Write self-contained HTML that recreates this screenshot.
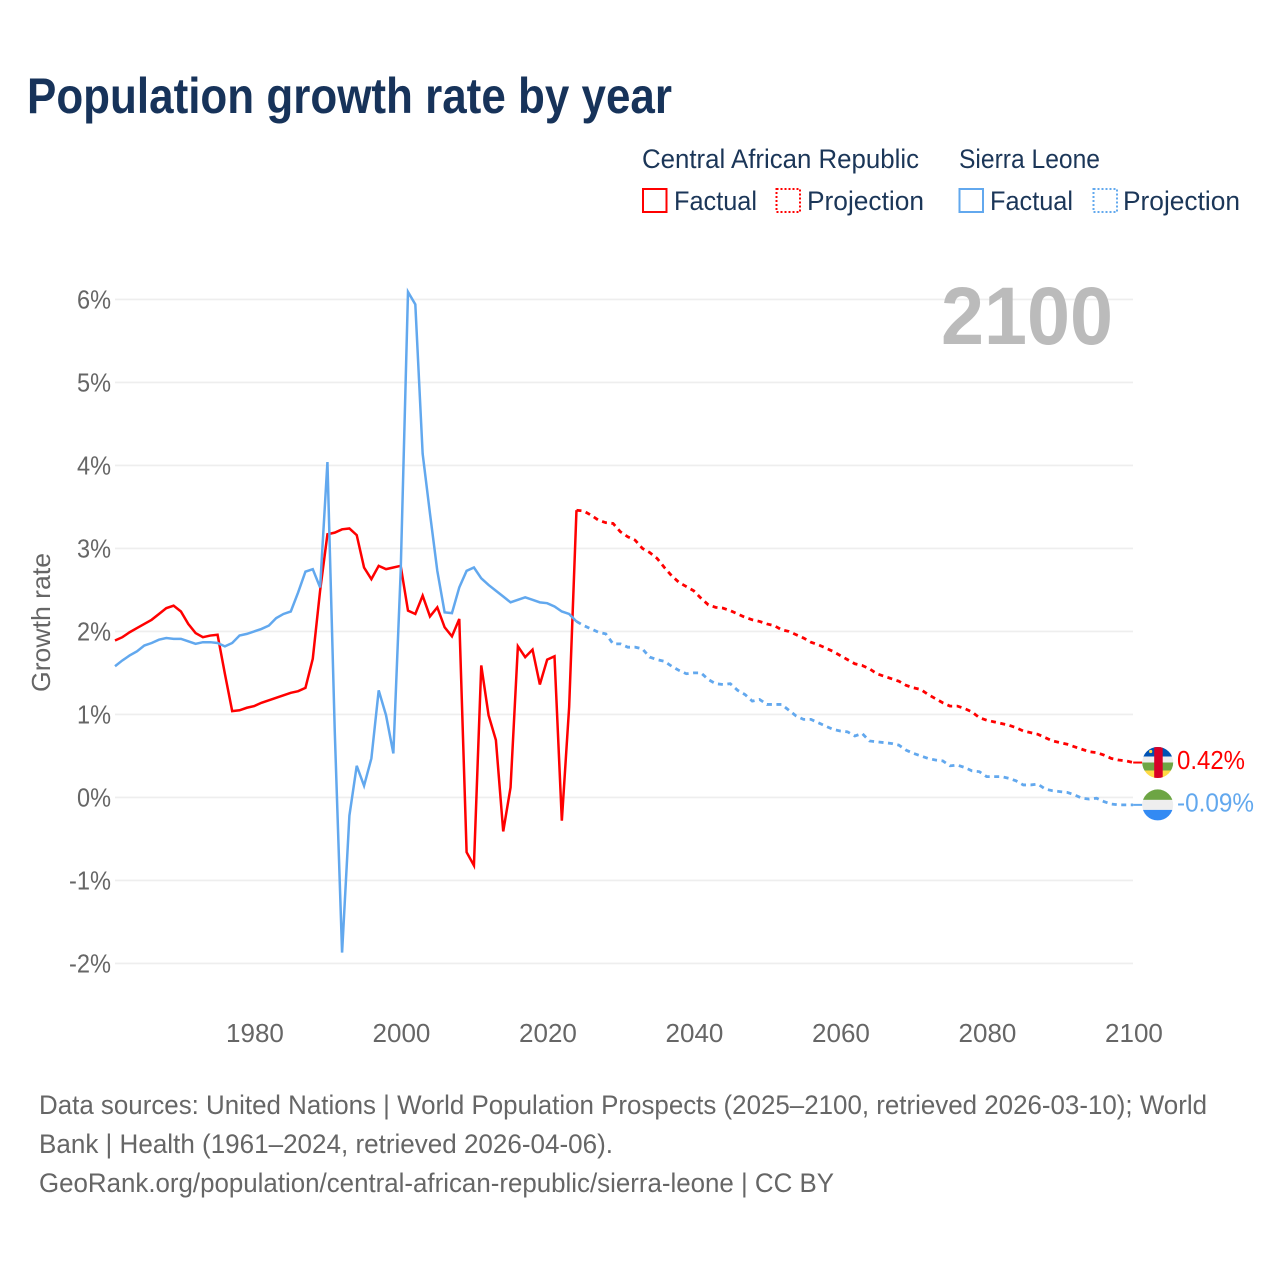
<!DOCTYPE html>
<html lang="en">
<head>
<meta charset="utf-8">
<title>Population growth rate by year</title>
<style>
  html, body { margin: 0; padding: 0; background: #fff; }
  svg { display: block; }
  text { font-family: "Liberation Sans", sans-serif; }
</style>
</head>
<body>
<svg id="chart" xmlns="http://www.w3.org/2000/svg" width="1280" height="1280" viewBox="0 0 1280 1280">
  <defs>
    <clipPath id="flag-clip"><circle cx="0" cy="0" r="15.5"></circle></clipPath>
  </defs>
  <rect x="0" y="0" width="1280" height="1280" fill="#ffffff"></rect>

  <text x="27" y="113" font-size="50" font-weight="700" fill="#17335a" textLength="645" lengthAdjust="spacingAndGlyphs">Population growth rate by year</text>

  <g font-size="27" fill="#1b3658">
    <text x="642" y="168" textLength="277" lengthAdjust="spacingAndGlyphs">Central African Republic</text>
    <text x="959" y="168" textLength="141" lengthAdjust="spacingAndGlyphs">Sierra Leone</text>

    <rect x="643" y="189" width="23.5" height="23" fill="none" stroke="#ff0000" stroke-width="2"></rect>
    <text x="674" y="210" textLength="83" lengthAdjust="spacingAndGlyphs">Factual</text>
    <rect x="776.5" y="189" width="23.5" height="23" fill="none" stroke="#ff0000" stroke-width="2" stroke-dasharray="2 2"></rect>
    <text x="807" y="210" textLength="117" lengthAdjust="spacingAndGlyphs">Projection</text>

    <rect x="959.5" y="189" width="23.5" height="23" fill="none" stroke="#62a8ee" stroke-width="2"></rect>
    <text x="990" y="210" textLength="83" lengthAdjust="spacingAndGlyphs">Factual</text>
    <rect x="1093.5" y="189" width="23.5" height="23" fill="none" stroke="#62a8ee" stroke-width="2" stroke-dasharray="2 2"></rect>
    <text x="1123" y="210" textLength="117" lengthAdjust="spacingAndGlyphs">Projection</text>
  </g>

  <g id="grid"></g>
  <g id="y-ticks"></g>
  <g id="x-ticks"></g>

  <text transform="translate(50 622.5) rotate(-90)" text-anchor="middle" font-size="26" fill="#666666" textLength="139" lengthAdjust="spacingAndGlyphs">Growth rate</text>

  <text x="941" y="344" font-size="82" font-weight="700" fill="#bbbbbb" textLength="172" lengthAdjust="spacingAndGlyphs">2100</text>

  <g id="series"></g>

  <g id="flag-car" clip-path="url(#flag-clip)">
    <rect x="-16" y="-16" width="32" height="10" fill="#0052b4"></rect>
    <rect x="-16" y="-6" width="32" height="6" fill="#eeeeee"></rect>
    <rect x="-16" y="0" width="32" height="8" fill="#6da544"></rect>
    <rect x="-16" y="8" width="32" height="8" fill="#ffda44"></rect>
    <rect x="-3.5" y="-16" width="8.5" height="32" fill="#d80027"></rect>
    <circle cx="-7" cy="-11" r="1.6" fill="#ffda44"></circle>
  </g>
  <g id="flag-sl" clip-path="url(#flag-clip)">
    <rect x="-16" y="-16" width="32" height="11" fill="#6da544"></rect>
    <rect x="-16" y="-5" width="32" height="10" fill="#eeeeee"></rect>
    <rect x="-16" y="5" width="32" height="11" fill="#338af3"></rect>
  </g>

  <text id="label-car" x="1177" font-size="26" fill="#ff0000" textLength="68" lengthAdjust="spacingAndGlyphs"></text>
  <text id="label-sl" x="1177" font-size="26" fill="#62a8ee" textLength="77" lengthAdjust="spacingAndGlyphs"></text>

  <g font-size="27" fill="#666666">
    <text x="39" y="1114" textLength="1168" lengthAdjust="spacingAndGlyphs">Data sources: United Nations | World Population Prospects (2025–2100, retrieved 2026-03-10); World</text>
    <text x="39" y="1153" textLength="574" lengthAdjust="spacingAndGlyphs">Bank | Health (1961–2024, retrieved 2026-04-06).</text>
    <text x="39" y="1192" textLength="795" lengthAdjust="spacingAndGlyphs">GeoRank.org/population/central-african-republic/sierra-leone | CC BY</text>
  </g>
</svg>

<script>
// ---- chart data ----
const factualStartYear = 1961;
const projectionStartYear = 2025;

const carFactual = [
  1.89,1.93,1.99,2.04,2.09,2.14,2.21,2.28,2.31,2.24,
  2.09,1.98,1.93,1.95,1.96,1.49,1.04,1.05,1.08,1.10,
  1.14,1.17,1.20,1.23,1.26,1.28,1.32,1.67,2.49,3.17,
  3.19,3.23,3.24,3.16,2.77,2.63,2.79,2.75,2.77,2.79,
  2.25,2.21,2.43,2.18,2.29,2.05,1.94,2.15,-0.66,-0.82,
  1.59,0.99,0.69,-0.41,0.12,1.82,1.69,1.78,1.36,1.66,
  1.70,-0.28,1.09,3.46
];
const carProjection = [
  3.45,3.40,3.34,3.31,3.30,3.20,3.14,3.10,3.00,2.95,
  2.88,2.77,2.67,2.59,2.54,2.49,2.40,2.32,2.29,2.28,
  2.25,2.21,2.17,2.14,2.12,2.09,2.07,2.02,2.00,1.96,
  1.92,1.87,1.84,1.80,1.76,1.71,1.66,1.61,1.59,1.55,
  1.49,1.46,1.43,1.40,1.35,1.32,1.30,1.24,1.19,1.14,
  1.10,1.10,1.07,1.03,0.96,0.93,0.91,0.89,0.87,0.84,
  0.80,0.78,0.76,0.72,0.68,0.66,0.64,0.61,0.58,0.55,
  0.54,0.51,0.47,0.45,0.44,0.42
];
const slFactual = [
  1.58,1.65,1.71,1.76,1.83,1.86,1.90,1.92,1.91,1.91,
  1.88,1.85,1.87,1.87,1.86,1.82,1.86,1.95,1.97,2.00,
  2.03,2.07,2.16,2.21,2.24,2.47,2.72,2.75,2.53,4.04,
  0.80,-1.87,-0.22,0.38,0.14,0.47,1.29,0.99,0.53,2.72,
  6.09,5.94,4.14,3.42,2.73,2.23,2.22,2.53,2.73,2.77,
  2.64,2.56,2.49,2.42,2.35,2.38,2.41,2.38,2.35,2.34,
  2.30,2.24,2.21,2.12
];
const slProjection = [
  2.07,2.03,1.99,1.97,1.85,1.85,1.81,1.81,1.79,1.69,
  1.66,1.64,1.58,1.53,1.49,1.50,1.50,1.42,1.37,1.36,
  1.37,1.29,1.24,1.16,1.18,1.12,1.12,1.12,1.05,0.98,
  0.94,0.94,0.90,0.86,0.82,0.80,0.79,0.74,0.77,0.68,
  0.67,0.66,0.65,0.63,0.57,0.53,0.50,0.47,0.45,0.44,
  0.38,0.39,0.36,0.32,0.31,0.25,0.25,0.25,0.23,0.20,
  0.15,0.15,0.16,0.10,0.08,0.07,0.06,0.03,-0.01,-0.02,
  -0.01,-0.05,-0.08,-0.09,-0.09,-0.09
];
const yTickValues = [6,5,4,3,2,1,0,-1,-2];
const xTickYears = [1980,2000,2020,2040,2060,2080,2100];

// ---- axis functions ----
const SVG_NS = 'http://www.w3.org/2000/svg';
function xScale(year) { return 115.0 + (year - 1961) * 7.325; }
function yScale(value) { return 797.4 - value * 83; }

function pathFrom(points) {
  return points.map(function (p, i) {
    return (i ? 'L' : 'M') + xScale(p[0]).toFixed(2) + ' ' + yScale(p[1]).toFixed(2);
  }).join(' ');
}
function toPoints(values, startYear) {
  return values.map(function (v, i) { return [startYear + i, v]; });
}

// ---- gridlines and ticks ----
const gridGroup = document.getElementById('grid');
const yTickGroup = document.getElementById('y-ticks');
yTickValues.forEach(function (v) {
  const line = document.createElementNS(SVG_NS, 'line');
  
  
  line.setAttribute('x1', 115);
  line.setAttribute('x2', 1133);
  line.setAttribute('y1', yScale(v));
  line.setAttribute('y2', yScale(v));
  line.setAttribute('stroke', '#eeeeee');
  line.setAttribute('stroke-width', '1.6');
  gridGroup.appendChild(line);

  const label = document.createElementNS(SVG_NS, 'text');
  
  
  label.setAttribute('x', 111);
  label.setAttribute('y', yScale(v) + 9);
  label.setAttribute('text-anchor', 'end');
  label.setAttribute('font-size', '26');
  label.setAttribute('fill', '#666666');
  label.setAttribute('textLength', v < 0 ? 42 : 34);
  label.setAttribute('lengthAdjust', 'spacingAndGlyphs');
  label.textContent = v + '%';
  yTickGroup.appendChild(label);
});

const xTickGroup = document.getElementById('x-ticks');
xTickYears.forEach(function (year) {
  const label = document.createElementNS(SVG_NS, 'text');
  
  
  label.setAttribute('x', xScale(year) + 0.8);
  label.setAttribute('y', 1042);
  label.setAttribute('text-anchor', 'middle');
  label.setAttribute('font-size', '26');
  label.setAttribute('fill', '#666666');
  label.textContent = year;
  xTickGroup.appendChild(label);
});

// ---- series ----
const seriesGroup = document.getElementById('series');
function addLine(points, color, dashed, name) {
  const path = document.createElementNS(SVG_NS, 'path');
  
  
  path.setAttribute('d', pathFrom(points));
  path.setAttribute('fill', 'none');
  path.setAttribute('stroke', color);
  path.setAttribute('stroke-width', dashed ? '2.8' : '2.5');
  path.setAttribute('stroke-linejoin', 'miter');
  if (dashed) path.setAttribute('stroke-dasharray', '5 4.5');
  seriesGroup.appendChild(path);
}
function addSeries(factual, projection, color, prefix) {
  const factualPts = toPoints(factual, factualStartYear);
  const projectionPts = toPoints(projection, projectionStartYear);
  addLine(factualPts, color, false, prefix + '-factual-line');
  addLine([factualPts[factualPts.length - 1]].concat(projectionPts), color, true, prefix + '-projection-line');
}
addSeries(carFactual, carProjection, '#ff0000', 'car');
addSeries(slFactual, slProjection, '#62a8ee', 'sl');

// ---- end connectors, flags, values ----
function placeEnd(projection, color, flagId, labelId, name) {
  const last = projection[projection.length - 1];
  const y = yScale(last);
  const connector = document.createElementNS(SVG_NS, 'line');
  
  
  connector.setAttribute('x1', xScale(2100));
  connector.setAttribute('x2', xScale(2100) + 9);
  connector.setAttribute('y1', y);
  connector.setAttribute('y2', y);
  connector.setAttribute('stroke', color);
  connector.setAttribute('stroke-width', '2');
  seriesGroup.appendChild(connector);
  document.getElementById(flagId).setAttribute('transform', 'translate(1157.7 ' + y.toFixed(1) + ')');
  const label = document.getElementById(labelId);
  label.setAttribute('y', (y + 6.5).toFixed(1));
  label.textContent = last.toFixed(2) + '%';
}
placeEnd(carProjection, '#ff0000', 'flag-car', 'label-car', 'car');
placeEnd(slProjection, '#62a8ee', 'flag-sl', 'label-sl', 'sl');
</script>
</body>
</html>
